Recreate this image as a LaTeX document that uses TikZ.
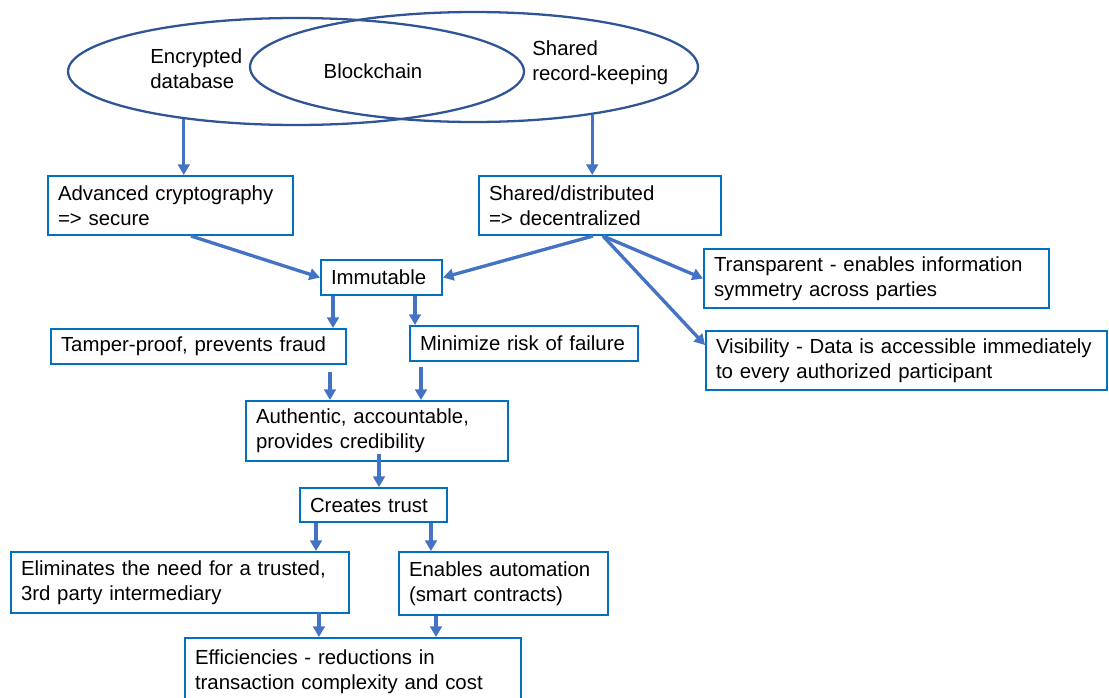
\documentclass[tikz,border=0pt]{standalone}
\usepackage{fontspec}
\setmainfont{Liberation Sans}
\usetikzlibrary{arrows.meta,shapes.geometric}
\definecolor{boxblue}{HTML}{0070C0}
\definecolor{arrowblue}{HTML}{4472C4}
\definecolor{ringblue}{HTML}{2F5597}

\begin{document}
\begin{tikzpicture}[x=0.02cm,y=-0.02cm,
  txt/.style={font=\fontsize{11.6}{14.2}\selectfont, inner sep=0pt},
  box/.style={txt, draw=boxblue, line width=1.15pt, anchor=north west,
    align=left, inner xsep=0pt, inner ysep=0pt},
  ring/.style={draw=ringblue, line width=1.3pt, ellipse, inner sep=0pt},
  arr/.style={draw=arrowblue, line width=1.9pt,
    -{Triangle[length=6pt,width=6.6pt]}}]
\path[use as bounding box] (0,0) rectangle (1109,697);
\clip (0,0) rectangle (1109,697);

% overlapping ellipses
\node[ring, minimum width=9.12cm, minimum height=2.14cm] (ellL) at (296,71.5) {};
\node[ring, minimum width=8.96cm, minimum height=2.2cm] (ellR) at (474,67) {};
\node[txt, anchor=west, align=left] (encr) at (150,69) {Encrypted\\database};
\node[txt] (chain) at (373,71) {Blockchain};
\node[txt, anchor=west, align=left] (rec) at (532,63) {Shared\\record-keeping};

% boxes
\node[box, minimum width=4.9cm, text width=4.5cm, minimum height=1.18cm] (adv) at (47,175)
  {\mbox{Advanced cryptography}\\=> secure};
\node[box, minimum width=4.84cm, text width=4.44cm, minimum height=1.18cm] (shr) at (478,175)
  {Shared/distributed\\=> decentralized};
\node[box, minimum width=2.42cm, text width=2.02cm, minimum height=0.7cm] (imm) at (320,259)
  {Immutable};
\node[box, minimum width=6.9cm, text width=6.5cm, minimum height=1.18cm] (trn) at (703,248)
  {\mbox{Transparent - enables information}\\symmetry across parties};
\node[box, minimum width=8.02cm, text width=7.62cm, minimum height=1.18cm] (vis) at (705,330)
  {\mbox{Visibility - Data is accessible immediately}\\to every authorized participant};
\node[box, minimum width=5.9cm, text width=5.5cm, minimum height=0.7cm] (tmp) at (50,328)
  {\mbox{Tamper-proof, prevents fraud}};
\node[box, minimum width=4.56cm, text width=4.16cm, minimum height=0.7cm] (min) at (409,325)
  {\mbox{Minimize risk of failure}};
\node[box, minimum width=5.24cm, text width=4.84cm, minimum height=1.2cm] (aut) at (245,400)
  {\mbox{Authentic, accountable,}\\provides credibility};
\node[box, minimum width=2.94cm, text width=2.54cm, minimum height=0.68cm] (trs) at (299,487)
  {\mbox{Creates trust}};
\node[box, minimum width=6.76cm, text width=6.36cm, minimum height=1.22cm] (eli) at (10,551)
  {\mbox{Eliminates the need for a trusted,}\\3rd party intermediary};
\node[box, minimum width=4.18cm, text width=3.78cm, minimum height=1.26cm] (ena) at (398,551)
  {\mbox{Enables automation}\\(smart contracts)};
\node[box, minimum width=6.72cm, text width=6.32cm, minimum height=1.36cm] (eff) at (184,637)
  {\mbox{Efficiencies - reductions in}\\\mbox{transaction complexity and cost}};

% connectors
\draw[arr] (ellL.203.8) -- (ellL.203.8 |- adv.north);
\draw[arr] (ellR.338.7) -- (ellR.338.7 |- shr.north);
\draw[arr] ([xshift=0.41cm]adv.south) -- (imm.west);
\draw[arr] ([xshift=-0.14cm]shr.south) -- (imm.east);
\draw[arr] ([xshift=0.06cm]shr.south) -- (trn.west);
\draw[arr] ([xshift=0.06cm]shr.south) -- ([yshift=0.31cm]vis.west);
\draw[arr] ([xshift=-0.97cm]imm.south) -- ([xshift=-0.97cm]imm.south |- tmp.north);
\draw[arr] ([xshift=0.67cm]imm.south) -- ([xshift=0.67cm]imm.south |- min.north);
\draw[arr] ([xshift=2.63cm,yshift=-0.13cm]tmp.south) -- ([xshift=2.63cm]tmp.south |- aut.north);
\draw[arr] ([xshift=-2.06cm,yshift=-0.1cm]min.south) -- ([xshift=-2.06cm]min.south |- aut.north);
\draw[arr] ([xshift=0.04cm,yshift=0.16cm]aut.south) -- ([xshift=0.04cm]aut.south |- trs.north);
\draw[arr] ([xshift=-1.15cm]trs.south) -- ([xshift=-1.15cm]trs.south |- eli.north);
\draw[arr] ([xshift=1.15cm]trs.south) -- ([xshift=1.15cm]trs.south |- ena.north);
\draw[arr] ([xshift=2.78cm,yshift=0.04cm]eli.south) -- ([xshift=2.78cm]eli.south |- eff.north);
\draw[arr] ([xshift=-1.35cm]ena.south) -- ([xshift=-1.35cm]ena.south |- eff.north);
\end{tikzpicture}
\end{document}
